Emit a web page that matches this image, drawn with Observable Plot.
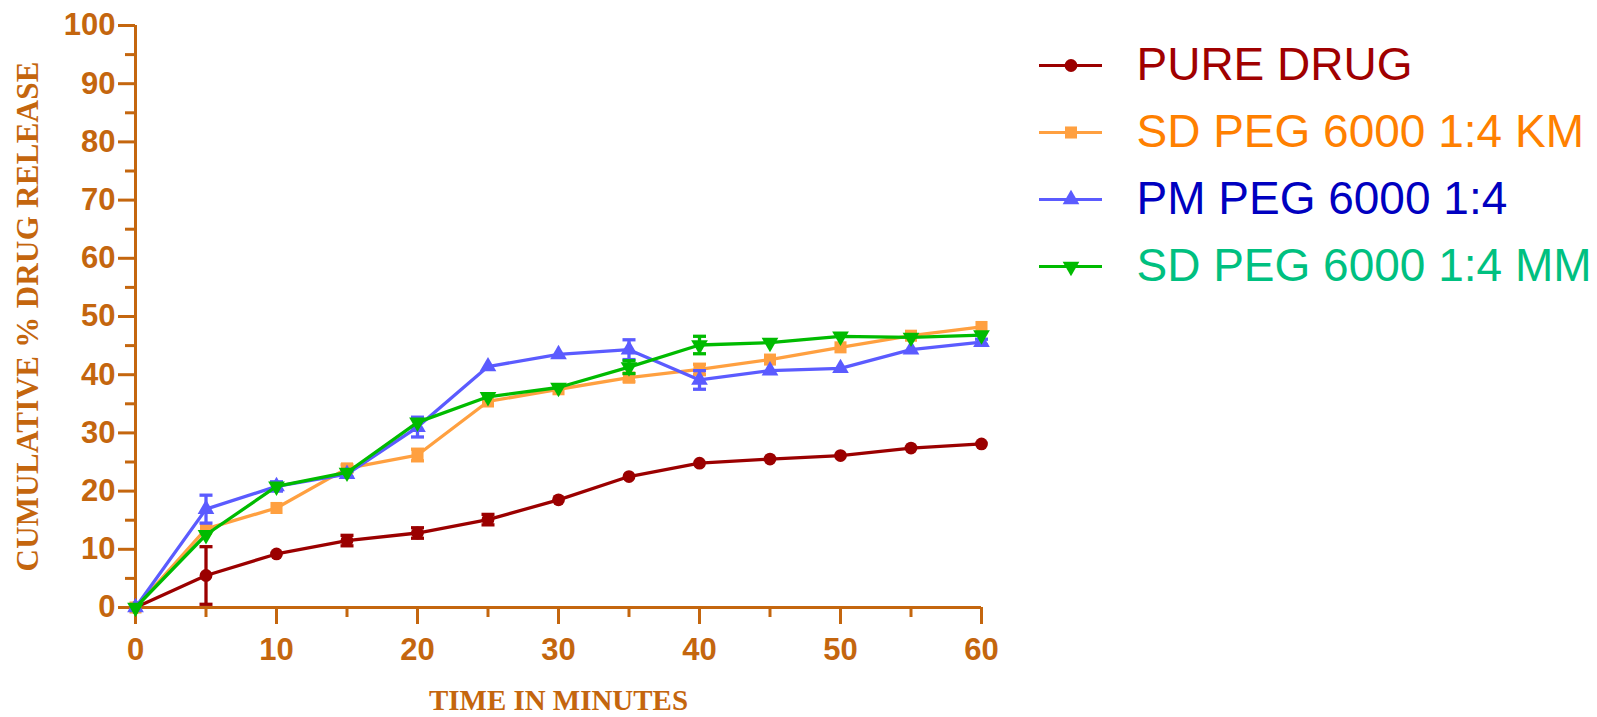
<!DOCTYPE html>
<html>
<head>
<meta charset="utf-8">
<script src="https://cdn.jsdelivr.net/npm/d3@7"></script>
<script src="https://cdn.jsdelivr.net/npm/@observablehq/plot@0.6"></script>
<style>
  html, body { margin: 0; padding: 0; background: #ffffff; }
  #wrap { position: relative; width: 1597px; height: 717px; overflow: hidden; }
  #legend { position: absolute; left: 1039px; top: 0px; }
</style>
</head>
<body>
<div id="wrap"><div id="chart"></div><div id="legend"></div></div>
<script>
// ---- data ----
const times = [0, 5, 10, 15, 20, 25, 30, 35, 40, 45, 50, 55, 60];
const seriesNames = ["PURE DRUG", "SD PEG 6000 1:4 KM", "PM PEG 6000 1:4", "SD PEG 6000 1:4 MM"];
const pureDrug   = [0, 5.5, 9.2, 11.5, 12.8, 15.1, 18.5, 22.5, 24.8, 25.5, 26.1, 27.4, 28.1];
const pureDrugSD = [0, 4.95, 0, 0.9, 0.9, 0.9, 0, 0, 0, 0, 0, 0, 0];
const sdKM   = [0, 13.5, 17.1, 23.9, 26.2, 35.4, 37.5, 39.5, 40.9, 42.6, 44.7, 46.7, 48.2];
const sdKMSD = [0, 0, 0, 0.6, 1.0, 0, 0, 0.7, 0.9, 0, 0, 0, 0];
const pmPEG   = [0, 16.9, 20.8, 22.9, 31.0, 41.4, 43.5, 44.3, 39.1, 40.7, 41.1, 44.3, 45.6];
const pmPEGSD = [0, 2.4, 0.8, 0.5, 1.7, 0, 0, 1.7, 1.6, 0, 0, 0, 0.5];
const sdMM   = [0, 12.5, 20.8, 23.2, 31.8, 36.2, 37.8, 41.3, 45.1, 45.5, 46.6, 46.4, 46.8];
const sdMMSD = [0, 0, 0, 0, 0, 0, 0, 1.1, 1.5, 0, 0, 0, 0];
const xTicks = [0, 10, 20, 30, 40, 50, 60];
const xMinorTicks = [5, 15, 25, 35, 45, 55];
const yTicks = [0, 10, 20, 30, 40, 50, 60, 70, 80, 90, 100];
const yMinorTicks = [5, 15, 25, 35, 45, 55, 65, 75, 85, 95];
const xTitle = "TIME IN MINUTES";
const yTitle = "CUMULATIVE % DRUG RELEASE";

// ---- styles ----
const axisColor = "#c4660e";
const lineColors = ["#9b0000", "#ffa040", "#5b5bff", "#00bb00"];
const textColors = ["#a00000", "#ff8000", "#0000c0", "#00c080"];

const symbolDownTriangle = {
  draw(ctx, size) {
    const y = -Math.sqrt(size / (Math.sqrt(3) * 3));
    ctx.moveTo(0, -2 * y);
    ctx.lineTo(-Math.sqrt(3) * y, y);
    ctx.lineTo(Math.sqrt(3) * y, y);
    ctx.closePath();
  }
};
const symbolCap = {
  draw(ctx, size) {
    const w = Math.sqrt(size / Math.PI);
    ctx.moveTo(-w, 0);
    ctx.lineTo(w, 0);
  }
};
const symbols = [d3.symbolCircle, d3.symbolSquare, d3.symbolTriangle, symbolDownTriangle];
const symbolR = [6.4, 6.8, 6.2, 6.2];

const allValues = [pureDrug, sdKM, pmPEG, sdMM];
const allSD = [pureDrugSD, sdKMSD, pmPEGSD, sdMMSD];

const seriesMarks = [];
allValues.forEach((vals, s) => {
  const rows = times.map((t, i) => ({t, v: vals[i], sd: allSD[s][i]}));
  const err = rows.filter(d => d.sd > 0);
  const col = lineColors[s];
  seriesMarks.push(
    Plot.line(rows, {x: "t", y: "v", stroke: col, strokeWidth: 3.3}),
    Plot.ruleX(err, {x: "t", y1: d => d.v - d.sd, y2: d => d.v + d.sd, stroke: col, strokeWidth: 3.3}),
    Plot.dot(err, {x: "t", y: d => d.v + d.sd, symbol: symbolCap, r: 6.5, stroke: col, strokeWidth: 3.3, fill: "none"}),
    Plot.dot(err, {x: "t", y: d => d.v - d.sd, symbol: symbolCap, r: 6.5, stroke: col, strokeWidth: 3.3, fill: "none"}),
    Plot.dot(rows, {x: "t", y: "v", symbol: symbols[s], r: symbolR[s], fill: col, stroke: "none"})
  );
});

const chart = Plot.plot({
  width: 1597,
  height: 717,
  marginLeft: 135,
  marginRight: 616,
  marginTop: 25,
  marginBottom: 110,
  style: {fontFamily: "'Liberation Sans', Arial, sans-serif", fontSize: "31px", fontWeight: "bold", color: axisColor, background: "transparent", overflow: "visible"},
  x: {domain: [0, 60]},
  y: {domain: [0, 100]},
  marks: [
    Plot.axisY(yTicks, {tickSize: 17, tickPadding: 3, stroke: axisColor, strokeWidth: 3, fill: axisColor, label: null}),
    Plot.axisY(yMinorTicks, {tickSize: 10, text: null, stroke: axisColor, strokeWidth: 3, label: null}),
    Plot.axisX(xTicks, {tickSize: 17, tickPadding: 13, stroke: axisColor, strokeWidth: 3, fill: axisColor, label: null}),
    Plot.axisX(xMinorTicks, {tickSize: 10, text: null, stroke: axisColor, strokeWidth: 3, label: null}),
    Plot.ruleX([0], {stroke: axisColor, strokeWidth: 3}),
    Plot.ruleY([0], {stroke: axisColor, strokeWidth: 3}),
    Plot.text([xTitle], {text: d => d, frameAnchor: "bottom", dy: 93, textAnchor: "middle", fontFamily: "'Liberation Serif', 'Times New Roman', serif", fontSize: 30, fontWeight: "bold", fill: axisColor, lineAnchor: "middle"}),
    Plot.text([yTitle], {text: d => d, frameAnchor: "left", dx: -107, rotate: -90, textAnchor: "middle", fontFamily: "'Liberation Serif', 'Times New Roman', serif", fontSize: 31, fontWeight: "bold", fill: axisColor, lineAnchor: "middle"}),
    ...seriesMarks
  ]
});
document.getElementById("chart").appendChild(chart);

// condense / spread axis titles to match the reference widths
d3.select(chart).selectAll("text").each(function() {
  const t = this.textContent;
  if (t === xTitle) { this.setAttribute("textLength", 259); this.setAttribute("lengthAdjust", "spacingAndGlyphs"); }
  if (t === yTitle) { this.setAttribute("textLength", 510); this.setAttribute("lengthAdjust", "spacing"); }
});

// ---- legend ----
const legendMarks = [];
seriesNames.forEach((name, s) => {
  legendMarks.push(
    Plot.ruleY([name], {y: d => d, stroke: lineColors[s], strokeWidth: 3}),
    Plot.dot([name], {y: d => d, symbol: symbols[s], r: symbolR[s], fill: lineColors[s], stroke: "none"}),
    Plot.text([name], {y: d => d, text: d => d, frameAnchor: "right", dx: 34, textAnchor: "start", fill: textColors[s], fontSize: 46, lineAnchor: "middle"})
  );
});
const legend = Plot.plot({
  width: 558,
  height: 300,
  marginLeft: 0,
  marginRight: 495,
  marginTop: 64,
  marginBottom: 34,
  style: {fontFamily: "'Liberation Sans', Arial, sans-serif", background: "transparent", overflow: "visible"},
  y: {type: "point", domain: seriesNames, padding: 0, axis: null},
  marks: legendMarks
});
document.getElementById("legend").appendChild(legend);
</script>
</body>
</html>
